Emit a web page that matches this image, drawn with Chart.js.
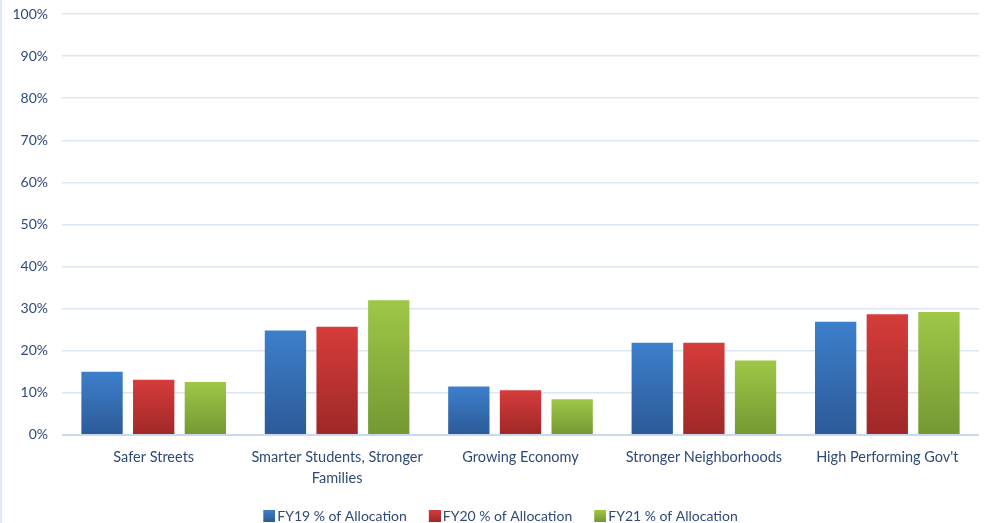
<!DOCTYPE html>
<html>
<head>
<meta charset="utf-8">
<script src="https://cdn.jsdelivr.net/npm/chart.js@4"></script>
<style>
  html, body { margin: 0; padding: 0; background: #ffffff; }
  #wrap { width: 984px; height: 523px; position: relative; border-left: 2px solid #dfe8f3; box-sizing: border-box; }
</style>
</head>
<body>
<div id="wrap"><canvas id="c"></canvas></div>
<script>
const categories = ["Safer Streets", ["Smarter Students, Stronger", "Families"], "Growing Economy", "Stronger Neighborhoods", "High Performing Gov't"];
const seriesNames = ["FY19 % of Allocation", "FY20 % of Allocation", "FY21 % of Allocation"];
const fy19 = [15.0, 24.8, 11.5, 21.9, 26.9];
const fy20 = [13.1, 25.7, 10.6, 21.9, 28.7];
const fy21 = [12.6, 32.0, 8.5, 17.7, 29.2];
const yTicks = [0, 10, 20, 30, 40, 50, 60, 70, 80, 90, 100];

const palettes = [
  { top: "#3d7fcc", bottom: "#2c5a97", legend: "#3569b0" },
  { top: "#d53c3a", bottom: "#9f2828", legend: "#c13433" },
  { top: "#9fc747", bottom: "#759833", legend: "#8ab23f" }
];

function gradFill(pal) {
  return function (ctx) {
    const chart = ctx.chart;
    const area = chart.chartArea;
    if (!area || ctx.type !== 'data') return pal.legend;
    const ys = chart.scales.y;
    const yTop = ys.getPixelForValue(ctx.raw);
    const yBot = ys.getPixelForValue(0);
    if (!isFinite(yTop) || !isFinite(yBot) || yTop === yBot) return pal.legend;
    const g = chart.ctx.createLinearGradient(0, yTop, 0, yBot);
    g.addColorStop(0, pal.top);
    g.addColorStop(1, pal.bottom);
    return g;
  };
}

// legend marker: square drawn at the right end of a wider transparent image
const BOX = 12, LBW = 19, IMG_W = LBW + 10;
function legendMarker(pal) {
  const cv = document.createElement('canvas');
  cv.width = IMG_W; cv.height = BOX;
  const c = cv.getContext('2d');
  const g = c.createLinearGradient(0, 0, 0, BOX);
  g.addColorStop(0, pal.top);
  g.addColorStop(1, pal.bottom);
  c.fillStyle = g;
  c.fillRect(IMG_W - BOX, 0, BOX, BOX);
  return cv;
}

const seriesData = [fy19, fy20, fy21];
const datasets = seriesData.map((d, i) => ({
  label: seriesNames[i],
  data: d,
  backgroundColor: gradFill(palettes[i]),
  borderWidth: 0,
  categoryPercentage: 0.845,
  barPercentage: 0.8
}));

const textColor = '#2f4a7a';

new Chart(document.getElementById('c'), {
  type: 'bar',
  data: { labels: categories, datasets },
  options: {
    responsive: true,
    maintainAspectRatio: false,
    animation: false,
    layout: { padding: { top: 0, right: 5, left: 8, bottom: -10 } },
    plugins: {
      legend: {
        position: 'bottom',
        labels: {
          usePointStyle: true,
          pointStyleWidth: LBW,
          boxHeight: BOX,
          padding: 10,
          color: textColor,
          font: { family: 'Lato', size: 14 },
          generateLabels: (chart) => seriesNames.map((n, i) => ({
            text: n,
            fillStyle: palettes[i].legend,
            strokeStyle: palettes[i].legend,
            lineWidth: 0,
            pointStyle: legendMarker(palettes[i]),
            datasetIndex: i,
            fontColor: textColor
          }))
        }
      },
      tooltip: { enabled: false }
    },
    scales: {
      x: {
        afterFit: (axis) => { axis.height -= 2; },
        grid: { display: false, drawTicks: false },
        border: { display: false },
        ticks: {
          color: textColor,
          font: { family: 'Lato', size: 14.5, lineHeight: 1.45 },
          padding: 12,
          maxRotation: 0,
          autoSkip: false
        }
      },
      y: {
        min: 0,
        max: 100,
        afterBuildTicks: (axis) => { axis.ticks = yTicks.map(v => ({ value: v })); },
        afterFit: (axis) => { axis.width = 52; axis.paddingTop = 14; },
        grid: {
          color: (c) => c.tick && c.tick.value === 0 ? '#c8d8ee' : '#dce6f3',
          lineWidth: (c) => c.tick && c.tick.value === 0 ? 2 : 1.5,
          drawTicks: false
        },
        border: { display: false },
        ticks: {
          color: textColor,
          font: { family: 'Lato', size: 14 },
          padding: 14,
          callback: (v) => v + '%'
        }
      }
    }
  }
});
</script>
</body>
</html>
